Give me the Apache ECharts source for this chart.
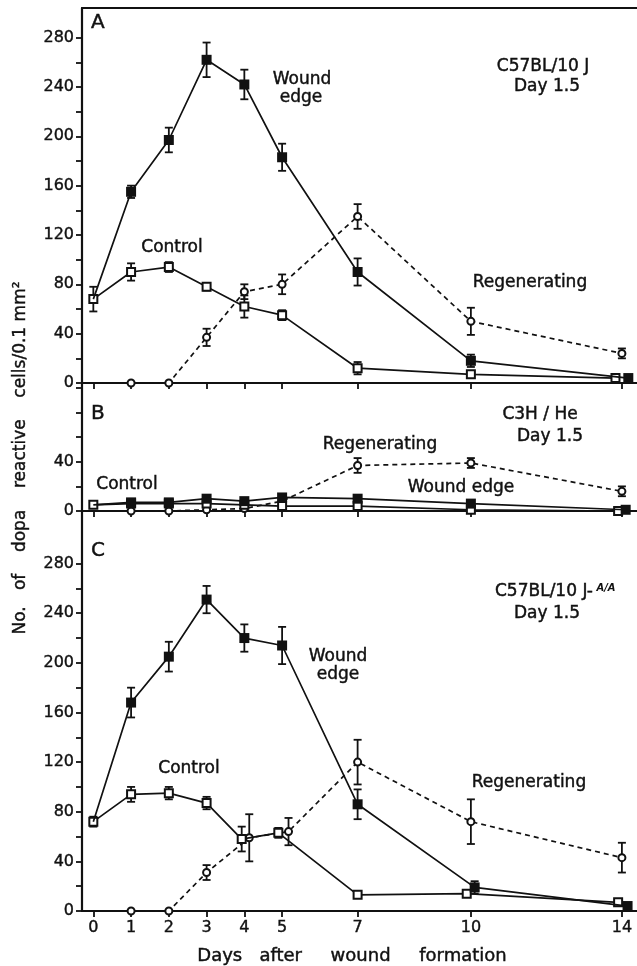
<!DOCTYPE html>
<html>
<head>
<meta charset="utf-8">
<script src="https://cdn.jsdelivr.net/npm/echarts@6/dist/echarts.min.js"></script>
<style>
html,body{margin:0;padding:0;background:#fff;}
#chart{width:637px;height:966px;}
</style>
</head>
<body>
<div id="chart"></div>
<script>
// ---------- data ----------
const days = [0, 1, 2, 3, 4, 5, 7, 10, 14];
const regenDays = [1, 2, 3, 4, 5, 7, 10, 14];
const xTickValues = [0, 1, 2, 3, 4, 5, 7, 10, 14];
const yTicksMain = [0, 20, 40, 60, 80, 100, 120, 140, 160, 180, 200, 220, 240, 260, 280];
const yLabelsMain = [0, 40, 80, 120, 160, 200, 240, 280];
const yTicksB = [0, 20, 40, 60, 80, 100];
const yLabelsB = [0, 40];

// Panel A  (C57BL/10 J)
const woundXA = [0, 1, 2, 3, 4, 5, 7, 10, 14.17];
const woundA = [68, 155, 197, 262, 242, 183, 90, 18, 4];
const woundErrA = [0, 5, 10, 14, 12, 11, 11, 5, 0];
const controlXA = [0, 1, 2, 3, 4, 5, 7, 10, 13.83];
const controlA = [68, 90, 94, 78, 62, 55, 12, 7, 4];
const controlErrA = [10, 7, 4, 3, 9, 4, 5, 0, 0];
const regenA = [0, 0, 37, 74, 80, 135, 50, 24];
const regenErrA = [0, 0, 7, 6, 8, 10, 11, 4];

// Panel B  (C3H/He)
const woundXB = [0, 1, 2, 3, 4, 5, 7, 10, 14.1];
const woundB = [5, 7, 7, 10, 8, 11, 10, 6, 1];
const woundErrB = [0, 0, 0, 2, 2, 2, 3, 2, 0];
const controlXB = [0, 1, 2, 3, 4, 5, 7, 10, 13.9];
const controlB = [5, 6, 6, 6, 5, 4, 4, 1, 0];
const controlErrB = [0, 0, 0, 0, 0, 0, 0, 0, 0];
const regenB = [0, 0, 1, 2, 8, 37, 39, 16];
const regenErrB = [0, 0, 0, 0, 0, 6, 4, 4];

// Panel C  (C57BL/10 J-A/A)
const woundXC = [0, 1, 2, 3, 4, 5, 7, 10.1, 14.15];
const woundC = [72, 168, 205, 251, 220, 214, 86, 19, 4];
const woundErrC = [0, 12, 12, 11, 11, 15, 12, 5, 0];
const controlXC = [0, 1, 2, 3, 3.93, 4.9, 7, 9.89, 13.9];
const controlC = [72, 94, 95, 87, 58, 63, 13, 14, 7];
const controlErrC = [4, 6, 5, 5, 10, 4, 0, 0, 0];
const regenXC = [1, 2, 3, 4.13, 5.17, 7, 10, 14];
const regenC = [0, 0, 31, 59, 64, 120, 72, 43];
const regenErrC = [0, 0, 6, 19, 11, 18, 18, 12];

// ---------- helpers ----------
const INK = '#111';
const FONT = 'DejaVu Sans';

function pts(xs, ys) { return xs.map((x, i) => [x, ys[i]]); }
function errs(xs, ys, es) {
  const out = [];
  xs.forEach((x, i) => { if (es[i] > 0) out.push([x, ys[i] - es[i], ys[i] + es[i]]); });
  return out;
}
function errRender(params, api) {
  const x = api.value(0);
  const top = api.coord([x, api.value(2)]);
  const bot = api.coord([x, api.value(1)]);
  const w = 4;
  const st = { stroke: INK, lineWidth: 1.8 };
  return {
    type: 'group',
    children: [
      { type: 'line', shape: { x1: top[0], y1: top[1], x2: bot[0], y2: bot[1] }, style: st },
      { type: 'line', shape: { x1: top[0] - w, y1: top[1], x2: top[0] + w, y2: top[1] }, style: st },
      { type: 'line', shape: { x1: bot[0] - w, y1: bot[1], x2: bot[0] + w, y2: bot[1] }, style: st }
    ]
  };
}

function panelSeries(idx, wx, w, we, cx, c, ce, rx, r, re) {
  const woundData = pts(wx, w).map((p, i) => i === 0 ? { value: p, symbol: 'none' } : p);
  return [
    { type: 'custom', xAxisIndex: idx, yAxisIndex: idx, renderItem: errRender, data: errs(wx, w, we), z: 2, silent: true },
    { type: 'custom', xAxisIndex: idx, yAxisIndex: idx, renderItem: errRender, data: errs(cx, c, ce), z: 2, silent: true },
    { type: 'custom', xAxisIndex: idx, yAxisIndex: idx, renderItem: errRender, data: errs(rx, r, re), z: 2, silent: true },
    { type: 'line', xAxisIndex: idx, yAxisIndex: idx, data: pts(rx, r), symbol: 'emptyCircle', symbolSize: 7,
      lineStyle: { color: INK, width: 1.7, type: [5, 4] }, itemStyle: { color: INK, borderWidth: 1.8 }, z: 3, animation: false },
    { type: 'line', xAxisIndex: idx, yAxisIndex: idx, data: pts(cx, c), symbol: 'emptyRect', symbolSize: 8,
      lineStyle: { color: INK, width: 1.7 }, itemStyle: { color: INK, borderWidth: 1.8 }, z: 4, animation: false },
    { type: 'line', xAxisIndex: idx, yAxisIndex: idx, data: woundData, symbol: 'rect', symbolSize: 10,
      lineStyle: { color: INK, width: 1.7 }, itemStyle: { color: INK }, z: 5, animation: false }
  ];
}

const labelStyle = { color: INK, fontFamily: FONT, fontSize: 16, textBorderColor: INK, textBorderWidth: 0.4 };

function xAxisDef(gridIndex, showLabels) {
  return {
    type: 'value', gridIndex: gridIndex, min: -0.3, max: 14.4, position: 'bottom',
    axisLine: { show: true, onZero: false, lineStyle: { color: INK, width: 2.2 } },
    axisTick: { show: true, customValues: xTickValues, length: 6, lineStyle: { color: INK, width: 1.8 } },
    axisLabel: Object.assign({ show: showLabels, customValues: xTickValues, margin: 9 }, labelStyle),
    splitLine: { show: false }
  };
}
function yAxisDef(gridIndex, max, ticks, labels) {
  return {
    type: 'value', gridIndex: gridIndex, min: 0, max: max,
    axisLine: { show: true, onZero: false, lineStyle: { color: INK, width: 2.2 } },
    axisTick: { show: true, customValues: ticks, length: 6, lineStyle: { color: INK, width: 1.8 } },
    axisLabel: Object.assign({ show: true, customValues: labels, margin: 8 }, labelStyle),
    splitLine: { show: false }
  };
}

function txt(x, y, s, size, align) {
  return { type: 'text', x: x, y: y, z: 10,
    style: { text: s, fill: INK, stroke: INK, lineWidth: 0.45, font: (size || 17) + 'px "' + FONT + '"',
      textAlign: align || 'center', textVerticalAlign: 'middle' } };
}

const chart = echarts.init(document.getElementById('chart'), null, { renderer: 'canvas' });
const option = {
  animation: false,
  backgroundColor: '#fff',
  grid: [
    { left: 82, top: 8, width: 555, height: 375 },
    { left: 82, top: 383, width: 555, height: 128 },
    { left: 82, top: 511, width: 555, height: 400 }
  ],
  xAxis: [
    xAxisDef(0, false),
    xAxisDef(1, false),
    xAxisDef(2, true),
    { type: 'value', gridIndex: 0, min: -0.3, max: 14.4, position: 'top',
      axisLine: { show: true, onZero: false, lineStyle: { color: INK, width: 2.2 } },
      axisTick: { show: false }, axisLabel: { show: false }, splitLine: { show: false } }
  ],
  yAxis: [
    yAxisDef(0, 304, yTicksMain, yLabelsMain),
    yAxisDef(1, 104, yTicksB, yLabelsB),
    yAxisDef(2, 322.4, yTicksMain, yLabelsMain)
  ],
  series: [].concat(
    panelSeries(0, woundXA, woundA, woundErrA, controlXA, controlA, controlErrA, regenDays, regenA, regenErrA),
    panelSeries(1, woundXB, woundB, woundErrB, controlXB, controlB, controlErrB, regenDays, regenB, regenErrB),
    panelSeries(2, woundXC, woundC, woundErrC, controlXC, controlC, controlErrC, regenXC, regenC, regenErrC)
  ),
  graphic: [
    // panel A
    txt(91, 23, 'A', 20, 'left'),
    txt(302, 80, 'Wound', 17), txt(301, 98, 'edge', 17),
    txt(543, 67, 'C57BL/10 J', 17), txt(547, 87, 'Day 1.5', 17),
    txt(172, 248, 'Control', 17),
    txt(530, 283, 'Regenerating', 17),
    // panel B
    txt(91, 414, 'B', 20, 'left'),
    txt(540, 415, 'C3H / He', 17), txt(550, 437, 'Day 1.5', 17),
    txt(380, 445, 'Regenerating', 17),
    txt(127, 485, 'Control', 17),
    txt(461, 488, 'Wound edge', 17),
    // panel C
    txt(91, 551, 'C', 20, 'left'),
    { type: 'text', x: 495, y: 592, z: 10,
      style: { text: '{a|C57BL/10 J-}{b| A/A}', textVerticalAlign: 'middle',
        rich: { a: { fill: INK, stroke: INK, lineWidth: 0.45, font: '17px "' + FONT + '"' },
                b: { fill: INK, font: 'italic bold 10px "' + FONT + '"', verticalAlign: 'top', padding: [0, 0, 7, 0] } } } },
    txt(547, 614, 'Day 1.5', 17),
    txt(338, 657, 'Wound', 17), txt(338, 675, 'edge', 17),
    txt(189, 769, 'Control', 17),
    txt(529, 783, 'Regenerating', 17),
    // axis titles
    { type: 'text', x: 21, y: 458, rotation: Math.PI / 2, z: 10,
      style: { text: 'No.   of    dopa    reactive    cells/0.1 mm²', fill: INK, stroke: INK, lineWidth: 0.4,
        font: '17px "' + FONT + '"', textAlign: 'center', textVerticalAlign: 'middle' } },
    txt(352, 956, 'Days   after     wound     formation', 18)
  ]
};
chart.setOption(option);
</script>
</body>
</html>
